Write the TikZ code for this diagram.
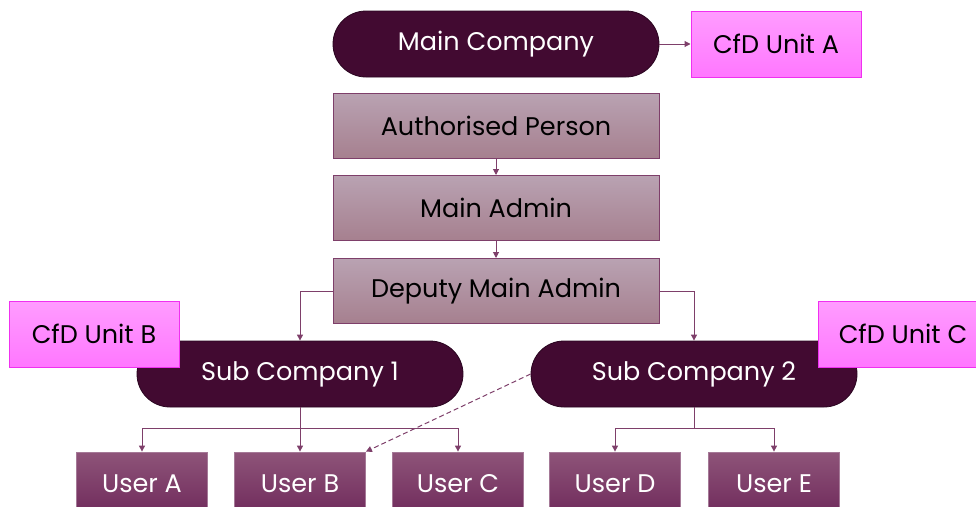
\documentclass[tikz,border=0pt]{standalone}
\usepackage{fontspec}
\setmainfont{Poppins}
\usetikzlibrary{arrows.meta}
\definecolor{plum}{HTML}{420A31}
\definecolor{plumedge}{HTML}{2A0520}
\definecolor{wire}{HTML}{7E3F6A}
\definecolor{mauvetop}{HTML}{B9A2B2}
\definecolor{mauvebot}{HTML}{A6808F}
\definecolor{usertop}{HTML}{8E5479}
\definecolor{userbot}{HTML}{6F2A5B}
\definecolor{cfdtop}{HTML}{FF9CFF}
\definecolor{cfdbot}{HTML}{FF77FF}
\definecolor{cfdedge}{HTML}{F030F0}
\tikzset{
  label font/.style={font=\fontsize{25.5}{30}\selectfont},
  company/.style={draw=plumedge, line width=0.8pt, fill=plum, rounded corners=33pt,
    minimum width=326pt, minimum height=66pt, inner sep=0pt, text=white, label font},
  rolebox/.style={draw=wire, line width=1pt, top color=mauvetop, bottom color=mauvebot,
    minimum width=326pt, minimum height=65pt, inner sep=0pt, text=black, label font},
  userbox/.style={draw=wire!70!white, line width=0.8pt, top color=usertop, bottom color=userbot,
    minimum width=131pt, minimum height=64pt, inner sep=0pt, text=white, label font},
  cfdbox/.style={draw=cfdedge, line width=1pt, top color=cfdtop, bottom color=cfdbot,
    minimum width=170pt, minimum height=66pt, inner sep=0pt, text=black, label font},
  link/.style={draw=wire, line width=1pt, -{Triangle[length=6pt,width=6pt]}},
  plainlink/.style={draw=wire, line width=1pt},
}
\begin{document}
\begin{tikzpicture}[x=1pt, y=-1pt]
\useasboundingbox (0,0) rectangle (976,506);

% top level
\node[company] (main) at (496,44) {Main Company};
\node[cfdbox] (cfdA) at (776,44) {CfD Unit A};
\node[rolebox] (auth) at (496,126) {Authorised Person};
\node[rolebox] (admin) at (496,208) {Main Admin};
\node[rolebox] (deputy) at (496,291) {Deputy Main Admin};

% sub companies
\node[company] (sub1) at (300,374) {Sub Company 1};
\node[company] (sub2) at (694,374) {Sub Company 2};
\node[cfdbox] (cfdB) at (94,334) {CfD Unit B};
\node[cfdbox] (cfdC) at (903,334) {CfD Unit C};

% users
\node[userbox] (ua) at (142,484) {User A};
\node[userbox] (ub) at (300,484) {User B};
\node[userbox] (uc) at (458,484) {User C};
\node[userbox] (ud) at (615,484) {User D};
\node[userbox] (ue) at (774,484) {User E};

% junction points of the branching wires
\coordinate (j1) at (300,428);
\coordinate (j2) at (694,428);

% connectors
\draw[link] (main.east) -- (cfdA.west);
\draw[link] (auth.south) -- (admin.north);
\draw[link] (admin.south) -- (deputy.north);
\draw[link] (deputy.west) -| (sub1.north);
\draw[link] (deputy.east) -| (sub2.north);

\draw[plainlink] (sub1.south) -- (j1);
\draw[link] (j1) -| (ua.north);
\draw[link] (j1) -| (uc.north);
\draw[link] (sub1.south) -- (ub.north);

\draw[plainlink] (sub2.south) -- (j2);
\draw[link] (j2) -| (ud.north);
\draw[link] (j2) -| (ue.north);

\draw[link, dashed, dash pattern=on 5pt off 3pt] (sub2.west) -- (ub.north east);
\end{tikzpicture}
\end{document}
